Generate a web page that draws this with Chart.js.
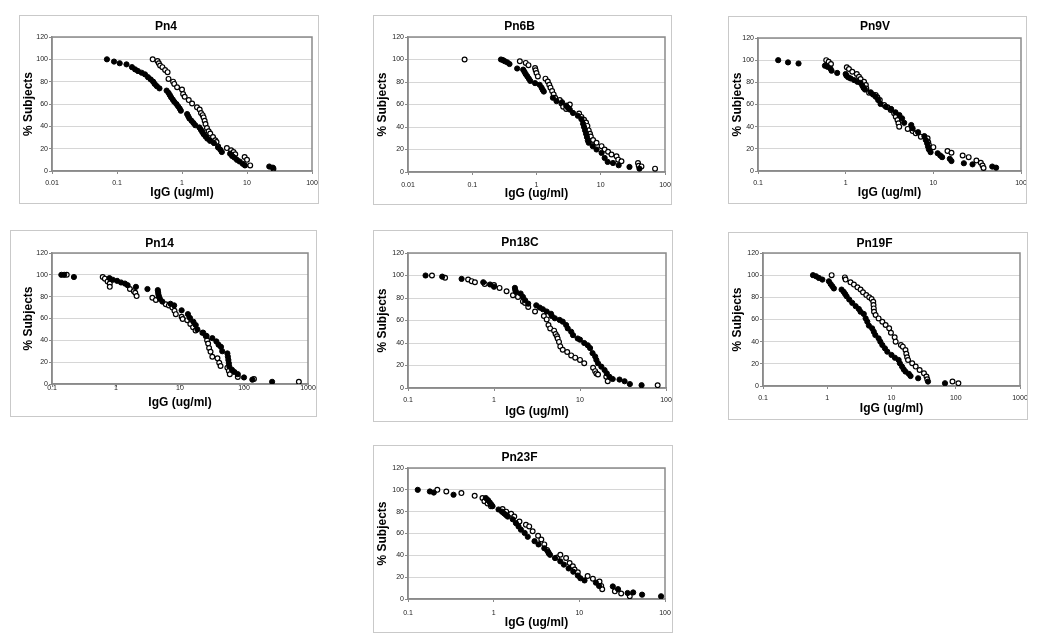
<!DOCTYPE html>
<html><head><meta charset="utf-8">
<script src="https://cdn.jsdelivr.net/npm/chart.js@4.4.0/dist/chart.umd.min.js"></script>
<style>
html,body{margin:0;padding:0;background:#fff;}
#page{position:relative;width:1050px;height:633px;overflow:hidden;background:#fff;}
.frame{position:absolute;box-sizing:border-box;border:1px solid #c9c9c9;background:#fff;}
.frame canvas{position:absolute;left:0;top:0;}
</style></head><body><div id="page"></div>
<script>
// ---------------- data ----------------
const panelTitles = ['Pn4','Pn6B','Pn9V','Pn14','Pn18C','Pn19F','Pn23F'];
const xAxisTitle = 'IgG (ug/ml)';
const yAxisTitle = '% Subjects';
const xTickLabelsA = ['0.01','0.1','1','10','100'];
const xTickLabelsB = ['0.1','1','10','100'];
const xTickLabelsC = ['0.1','1','10','100','1000'];
const yTickLabels = ['0','20','40','60','80','100','120'];

const pn4Filled = [[0.07,100],[0.09,98],[0.11,96.5],[0.14,95.5],[0.17,93],[0.19,91],[0.21,89.5],[0.24,88],[0.27,86.5],[0.3,84],[0.33,82],[0.36,80],[0.38,78],[0.41,76],[0.45,74],[0.58,72],[0.62,70],[0.65,68],[0.68,66],[0.72,64],[0.76,62],[0.82,60],[0.87,58],[0.92,56],[0.96,54],[1.2,51],[1.25,49],[1.3,47],[1.4,45],[1.5,43],[1.6,41],[1.85,39],[1.95,37],[2.05,35],[2.15,33],[2.3,31],[2.45,29],[2.7,27],[3.1,25],[3.6,21],[3.9,19],[4.1,17],[5.5,15.5],[5.9,13.5],[6.4,12],[7.0,10],[7.7,8.5],[8.6,6.5],[9.3,5],[22,4],[25,3]];
const pn4Open = [[0.354,100],[0.42,98.5],[0.44,96.5],[0.46,94.5],[0.5,93],[0.55,90.5],[0.6,88.5],[0.62,82.5],[0.73,80],[0.76,78],[0.84,75],[1.0,73],[1.04,69],[1.1,66.5],[1.27,63.5],[1.43,60.5],[1.7,57],[1.87,55],[1.96,52],[2.08,50],[2.15,48],[2.23,45],[2.3,42],[2.42,38.5],[2.57,35.5],[2.72,33.5],[3.0,30.5],[3.25,27.5],[3.4,26],[3.6,22],[4.9,20.5],[5.7,18.5],[6.2,17],[6.6,15],[9.2,12.5],[10,10],[11.2,5],[25.5,2]];

const pn6bFilled = [[0.28,100],[0.3,99.5],[0.32,98.5],[0.35,97.5],[0.38,96],[0.5,92],[0.62,91],[0.65,89],[0.68,87],[0.72,85],[0.76,83],[0.8,81],[0.95,79],[1.12,77.5],[1.2,75],[1.25,73],[1.3,71.5],[1.8,66],[2.05,63],[2.5,62],[2.9,59],[3.1,57],[3.3,55.5],[3.7,52.5],[4.4,50],[5.0,47],[5.3,43],[5.5,40],[5.7,37],[5.9,34],[6.1,31],[6.3,28],[6.5,26],[7.5,23],[8.6,20],[10.3,17],[11.5,12.5],[12.8,9],[15.5,8],[19,6],[28,4.5],[40,3]];
const pn6bOpen = [[0.076,100],[0.55,98.5],[0.68,97],[0.75,95],[0.95,92.5],[0.97,90.5],[1.0,88],[1.05,85],[1.38,83],[1.5,80.5],[1.58,77.5],[1.65,75],[1.75,72],[1.85,69],[1.95,66],[2.3,64],[2.45,61],[2.6,58],[2.9,56],[3.3,60],[4.6,52],[5.0,49],[5.5,46.5],[5.9,44],[6.2,41],[6.5,37],[6.8,34],[7.0,31.5],[7.6,28.5],[8.6,26],[10.3,23],[11.5,20],[13,18],[14.7,15.5],[17.6,14],[18.7,11],[21,9.5],[38,8],[39,5.5],[43,5],[70,3]];

const pn9vFilled = [[0.17,100],[0.22,98],[0.29,97],[0.58,95],[0.62,94],[0.67,92.5],[0.69,90.5],[0.8,88.5],[1.0,87.5],[1.02,86],[1.07,84.5],[1.14,83.5],[1.25,82],[1.36,80.5],[1.48,79.5],[1.55,77],[1.6,75],[1.66,73.5],[1.93,71],[2.05,69],[2.2,67],[2.35,64],[2.5,60.5],[2.87,58],[3.3,56],[3.7,53],[4.1,50.5],[4.4,47.5],[4.65,43.5],[5.6,41.5],[5.8,38.5],[6.7,35],[7.9,31.5],[8.2,28],[8.5,25],[8.7,22],[8.9,19.5],[9.3,17],[11.2,16],[12,14],[12.6,12.5],[15.4,11],[16.1,9],[22.3,7],[28,6],[47,4],[52,3]];
const pn9vOpen = [[0.6,100],[0.64,98.5],[0.68,96.5],[1.03,93.5],[1.09,92],[1.19,89.5],[1.34,87.5],[1.42,85],[1.48,83],[1.62,80.5],[1.7,77.5],[1.72,74.5],[1.85,70.5],[2.2,68.5],[2.3,66.5],[2.45,64],[2.75,59.5],[3.0,57.5],[3.27,55],[3.57,52],[3.73,49],[3.9,46],[4.0,43],[4.08,40],[5.1,38],[5.8,36],[6.3,34],[7.2,31],[8.6,29.5],[8.75,26],[8.9,23.5],[10,21.5],[14.5,18],[16.1,16.5],[21.6,14],[25.3,12.5],[31,9.5],[34.8,7.5],[36.4,5],[37.4,2.7]];

const pn14Filled = [[0.14,100],[0.155,100],[0.22,98],[0.79,97],[0.89,95.5],[1.04,94.5],[1.2,93],[1.38,92],[1.52,90.5],[2.05,89],[3.1,87],[4.5,86],[4.55,84],[4.6,82],[4.7,80],[4.85,78],[5.3,75.5],[7.1,73.5],[8.1,72],[10.6,67.5],[13.3,64],[14.3,60.5],[16.2,57],[17.6,54],[18.7,50],[23,47],[26,44],[32,42],[37,39],[40,36],[43.7,34],[45.7,30],[55,28],[56,25],[57,22],[58,19],[59,16],[65,13],[71,11],[80,9],[100,6],[135,4],[275,2]];
const pn14Open = [[0.17,100],[0.62,98],[0.67,96.5],[0.74,94],[0.8,92],[0.8,89],[1.65,87],[1.9,85],[2.0,83.5],[2.1,80.5],[3.7,79],[4.2,77],[6.0,73],[6.7,72],[7.6,70],[8.2,67],[8.6,64],[10.6,61.5],[11,59.5],[13,58.5],[14.5,55],[16,52],[17.5,49],[22.4,47],[25.3,44],[26.5,40],[27.5,37],[28.5,33],[30,29.5],[32,25],[38.5,23.5],[41,19.5],[43,16.5],[55,15],[58,12],[60,9],[80,6.5],[143,4.5],[720,2]];

const pn18cFilled = [[0.16,100],[0.25,99],[0.42,97],[0.75,94],[0.9,92],[1.0,90],[1.75,89],[1.77,87],[1.8,85.5],[2.04,84],[2.17,81],[2.3,78],[2.5,75],[3.1,73.5],[3.4,71.5],[3.7,70],[4.1,68],[4.6,66],[4.7,64],[5.1,62],[5.8,60.5],[6.3,59],[6.9,56],[7.2,53],[7.9,50],[8.3,47],[9.4,44],[10,43],[11.2,40],[12.3,38],[13.1,35.5],[14,31],[15,28],[15.5,25],[16.2,22],[17.7,19],[19.3,16],[20.5,13],[22,10],[24,8],[28.8,7.5],[33,6],[38,3.5],[52,2.5]];
const pn18cOpen = [[0.19,100],[0.27,98],[0.5,96.5],[0.55,95],[0.6,94],[0.78,92.5],[1.0,91.5],[1.16,89],[1.4,86],[1.66,82.5],[1.9,81],[2.17,77],[2.3,75.5],[2.5,72],[3.0,68],[3.8,64],[4.1,61],[4.3,56],[4.5,53],[5.0,51],[5.2,48],[5.4,46],[5.5,44],[5.7,41],[5.9,37],[6.3,34],[7.1,32],[7.9,29],[8.8,27],[10,25],[11.2,22],[14.2,18],[15,15],[15.5,13],[16.2,12],[20.2,10],[21,6],[80,2.5]];

const pn19fFilled = [[0.6,100],[0.67,99],[0.74,97.5],[0.84,96],[1.06,94.5],[1.13,92],[1.2,90],[1.27,88],[1.67,87],[1.8,85],[1.9,83],[2.0,81],[2.2,78],[2.45,75],[2.77,72],[3.1,69.5],[3.3,67],[3.7,65],[3.96,61],[4.2,58],[4.45,54.5],[5.0,52],[5.3,49],[5.6,46],[6.3,43],[6.7,40],[7.2,37],[7.9,34],[8.6,31],[10,28],[11.3,25.5],[12.9,23.5],[13.5,20.5],[14.6,17.5],[15.5,15],[16.5,13],[18.6,11],[19.8,9],[26,7],[37,4],[68,2.5]];
const pn19fOpen = [[1.17,100],[1.88,98],[1.93,96],[2.3,93.5],[2.6,91.5],[2.95,89],[3.3,87],[3.6,84.5],[4.05,82],[4.5,80],[4.9,78.5],[5.2,76],[5.25,73],[5.3,70],[5.35,67],[5.66,64],[6.3,61],[7.2,58],[8.1,55],[9.2,52],[9.8,48],[11.2,44],[11.6,40],[14,37],[15,35.5],[16.5,32.5],[17,29],[17.5,26],[18.1,23.5],[21,20.5],[23.8,17.5],[27.4,14.5],[32,11.5],[35,8.5],[36,6],[89,4],[110,2.5]];

const pn23fFilled = [[0.13,100],[0.18,98.5],[0.2,97.5],[0.34,95.5],[0.81,92.5],[0.86,90.5],[0.9,88.5],[0.94,86.5],[0.97,85],[1.14,82],[1.25,80],[1.32,78.5],[1.39,77],[1.46,75.5],[1.67,73],[1.82,69.5],[1.95,66.5],[2.08,63.5],[2.3,60.5],[2.5,57],[3.0,53],[3.34,50],[3.9,46.5],[4.3,43.5],[4.55,40.5],[5.2,37.5],[6.0,34.5],[6.6,31.5],[7.5,28],[8.5,25],[9.6,21.5],[10.3,19],[11.5,17],[15.6,15],[17,12],[24.6,11.5],[28.3,9],[36.6,5.5],[42.5,6],[54,4],[90,2.5]];
const pn23fOpen = [[0.22,100],[0.28,98.5],[0.42,97],[0.6,94.5],[0.74,92.5],[0.78,89.5],[0.85,87.5],[0.93,85],[1.27,82.5],[1.4,80],[1.6,78],[1.74,75.5],[2.0,71],[2.38,68],[2.6,66.5],[2.85,62],[3.3,58],[3.6,54.5],[3.9,50],[4.2,45],[4.4,42],[5.5,38],[6.0,40.5],[7.0,37.5],[7.7,33],[8.4,30],[8.8,27],[9.6,24.5],[12.5,21],[14.4,18.5],[17.2,16],[18,12],[18.5,9],[26,7],[30.8,5],[38.8,2.5]];

// ---------------- layout (positions only) ----------------
const panels = [
  {title:panelTitles[0], filled:pn4Filled,  open:pn4Open,  ticks:xTickLabelsA, frame:[19,15,318,203],  plot:[52,37,312,171],  titleY:27,  yTitleX:29,  xTitleY:193, xLabelY:182.7},
  {title:panelTitles[1], filled:pn6bFilled, open:pn6bOpen, ticks:xTickLabelsA, frame:[373,15,671,204], plot:[408,37,665,172], titleY:27,  yTitleX:383, xTitleY:193.3, xLabelY:185},
  {title:panelTitles[2], filled:pn9vFilled, open:pn9vOpen, ticks:xTickLabelsB, frame:[728,16,1026,203],plot:[758,38,1021,171],titleY:27,  yTitleX:738, xTitleY:192.7, xLabelY:182.7},
  {title:panelTitles[3], filled:pn14Filled, open:pn14Open, ticks:xTickLabelsC, frame:[10,230,316,416], plot:[52,253,308,384], titleY:244, yTitleX:29,  xTitleY:402.7, xLabelY:388.5},
  {title:panelTitles[4], filled:pn18cFilled,open:pn18cOpen,ticks:xTickLabelsB, frame:[373,230,672,421],plot:[408,253,666,388],titleY:243, yTitleX:383, xTitleY:411.7, xLabelY:400},
  {title:panelTitles[5], filled:pn19fFilled,open:pn19fOpen,ticks:xTickLabelsC, frame:[728,232,1027,419],plot:[763,253,1020,386],titleY:244, yTitleX:738, xTitleY:409, xLabelY:398.3},
  {title:panelTitles[6], filled:pn23fFilled,open:pn23fOpen,ticks:xTickLabelsB, frame:[373,445,672,632],plot:[408,468,665,599],titleY:458, yTitleX:383, xTitleY:622.7, xLabelY:612.7}
];

Chart.defaults.font.family = '"Liberation Sans", Arial, sans-serif';
Chart.defaults.color = '#222';

const plotFrame = {
  id:'plotFrame',
  beforeDatasetsDraw(chart){
    const {ctx, chartArea:a} = chart;
    ctx.save();
    ctx.strokeStyle = '#8a8a8a';
    ctx.lineWidth = 1.5;
    ctx.strokeRect(a.left, a.top, a.right - a.left, a.bottom - a.top);
    ctx.restore();
  }
};

const page = document.getElementById('page');
panels.forEach(p => {
  const [L,T,R,B] = p.frame;
  const [pl,pt,pr,pb] = p.plot;
  const div = document.createElement('div');
  div.className = 'frame';
  div.style.left = L + 'px'; div.style.top = T + 'px';
  div.style.width = (R - L + 1) + 'px'; div.style.height = (B - T + 1) + 'px';
  const cw = R - L - 1, ch = B - T - 1;
  const cv = document.createElement('canvas');
  cv.width = cw; cv.height = ch;
  cv.style.width = cw + 'px'; cv.style.height = ch + 'px';
  div.appendChild(cv);
  page.appendChild(div);

  const cx0 = L + 1, cy0 = T + 1;
  const yW = pl - cx0;
  const xH = (cy0 + ch) - pb;
  const padRight = (cx0 + cw) - pr;
  const titleFont = 12, titleLH = titleFont * 1.2;
  const tTop = Math.max(0, p.titleY - cy0 - titleLH / 2);
  const tBot = Math.max(0, (pt - cy0) - tTop - titleLH);
  const axTitleFont = 12, axLH = axTitleFont * 1.2;
  const yTitlePad = p.yTitleX - cx0 - axLH / 2;
  const xTitlePad = (cy0 + ch) - p.xTitleY - axLH / 2;
  const tickFont = 7, tickLH = tickFont * 1.2;
  const xTickLen = 3;
  const xLabelPad = p.xLabelY - pb - tickLH / 2 - xTickLen;
  const tickVals = p.ticks.map(Number);

  new Chart(cv, {
    type:'scatter',
    data:{datasets:[
      {label:'filled', data:p.filled.map(d => ({x:d[0], y:d[1]})), pointRadius:2.6, pointHoverRadius:2.6,
       backgroundColor:'#000', borderColor:'#000', borderWidth:1},
      {label:'open', data:p.open.map(d => ({x:d[0], y:d[1]})), pointRadius:2.4, pointHoverRadius:2.4,
       backgroundColor:'#fff', borderColor:'#000', borderWidth:1.2}
    ]},
    options:{
      responsive:false, animation:false, devicePixelRatio:1,
      layout:{padding:{left:0, top:0, right:padRight, bottom:0}},
      plugins:{
        legend:{display:false}, tooltip:{enabled:false},
        title:{display:true, text:p.title, color:'#000', font:{size:titleFont, weight:'bold'},
               padding:{top:tTop, bottom:tBot}}
      },
      scales:{
        x:{
          type:'logarithmic', position:'bottom', min:tickVals[0], max:tickVals[tickVals.length-1],
          afterBuildTicks:s => { s.ticks = tickVals.map(v => ({value:v})); },
          afterFit:s => { s.height = xH; s.paddingLeft = 0; s.paddingRight = 0; },
          grid:{drawOnChartArea:false, drawTicks:true, tickLength:xTickLen, color:'#8a8a8a'},
          border:{display:true, color:'#8a8a8a', width:1.5},
          ticks:{autoSkip:false, maxRotation:0, minRotation:0, padding:xLabelPad, color:'#222',
                 font:{size:tickFont}, callback:(v, i) => p.ticks[i]},
          title:{display:true, text:xAxisTitle, color:'#000', font:{size:axTitleFont, weight:'bold'},
                 padding:{top:0, bottom:xTitlePad}}
        },
        y:{
          min:0, max:120,
          afterBuildTicks:s => { s.ticks = yTickLabels.map(t => ({value:Number(t)})); },
          afterFit:s => { s.width = yW; s.paddingTop = 0; s.paddingBottom = 0; },
          grid:{color:'#d6d6d6', lineWidth:1, drawTicks:true, tickLength:3, tickColor:'#8a8a8a'},
          border:{display:true, color:'#8a8a8a', width:1.5},
          ticks:{padding:1, color:'#222', font:{size:tickFont}, callback:(v, i) => yTickLabels[i]},
          title:{display:true, text:yAxisTitle, color:'#000', font:{size:axTitleFont, weight:'bold'},
                 padding:{top:yTitlePad, bottom:0}}
        }
      }
    },
    plugins:[plotFrame]
  });
});
</script>
</body></html>
